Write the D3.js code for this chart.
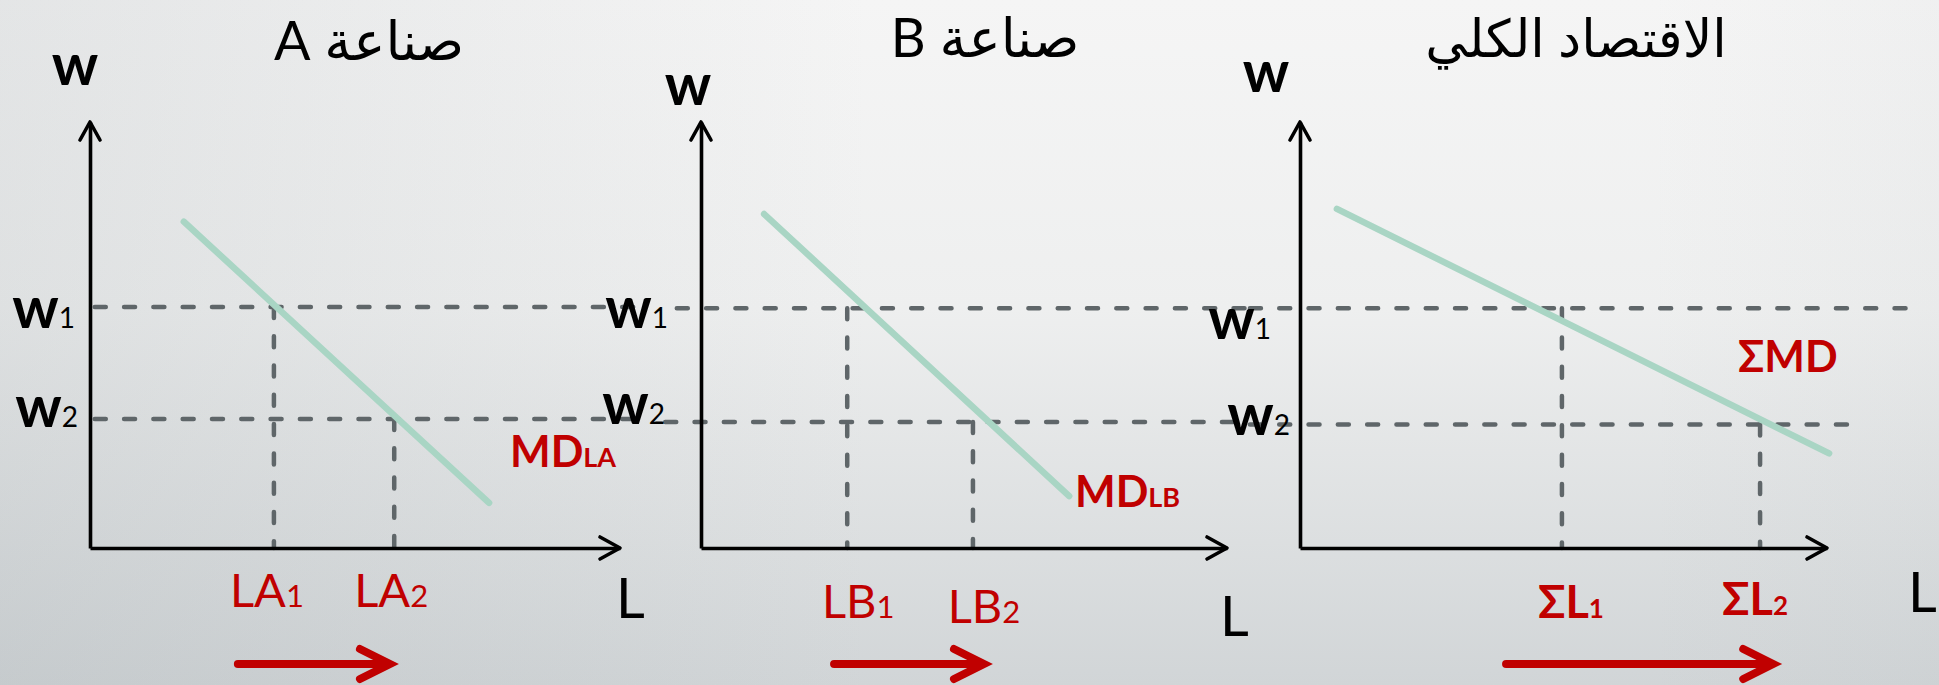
<!DOCTYPE html>
<html>
<head>
<meta charset="utf-8">
<script src="https://cdn.jsdelivr.net/npm/d3@7"></script>
<style>
html,body{margin:0;padding:0;overflow:hidden;background:#e6e8e8;}
svg{display:block;}
</style>
</head>
<body>
<svg id="chart" width="1939" height="685"></svg>
<script>
// ---------------- DATA (economic units) ----------------
const panelTitles   = ["صناعة A", "صناعة B", "الاقتصاد الكلي"];
const wageAxisLabel = "w";
const labourAxisLabel = "L";
const wageNames     = [["w", "1"], ["w", "2"]];
// wage levels w1, w2 in each panel
const wageW1 = [5.66, 5.63, 5.63];
const wageW2 = [3.03, 2.96, 2.90];
// labour quantities L1, L2 in each panel
const labourL1 = [3.47, 2.78, 4.97];
const labourL2 = [5.74, 5.17, 8.73];
const labourNames = [
  [["LA", "1"], ["LA", "2"]],
  [["LB", "1"], ["LB", "2"]],
  [["ΣL", "1"], ["ΣL", "2"]]
];
// marginal demand (MD) curve end points [L, w]
const mdStart = [[1.77, 7.66], [1.20, 7.84], [0.70, 7.96]];
const mdEnd   = [[7.53, 1.06], [7.00, 1.22], [10.04, 2.22]];
const mdNames = [["MD", "LA"], ["MD", "LB"], ["ΣMD", ""]];
// extent of the dashed wage guides [from, to] (L units)
const guideW1 = [[0.09, 10.26], [-0.46, 10.44], [-0.95, 11.69]];
const guideW2 = [[0.09, 10.26], [-0.68, 10.44], [-0.95, 10.63]];
// red shift arrows below the axis [from, to] (L units)
const shiftArrow = [[2.79, 5.66], [2.53, 5.38], [3.91, 8.98]];

// ---------------- LAYOUT ----------------
const W = 1939, H = 685;
const frames = [
  {x0: 90,   x1: 620},
  {x0: 701,  x1: 1227},
  {x0: 1300, x1: 1827}
];
const yBottom = 548, yTop = 122;
const layout = [
  {title: [369, 60], wAxis: [-15, 85], lAxis: [-4, 618],
   wLab: [[-15, 21], [-12, 8]], lLab: [[-7, 607], [-3, 607]], md: [510, 467]},
  {title: [985, 57], wAxis: [-13, 105], lAxis: [-7, 636],
   wLab: [[-33, 20], [-36, 2]], lLab: [[11, 618], [11, 623]], md: [1075, 507]},
  {title: [1576, 57], wAxis: [-34, 92], lAxis: [81, 612],
   wLab: [[-29, 31], [-10, 11]], lLab: [[9, 618], [-5, 615]], md: [1738, 372]}
];
const arrowY = 664;
const RED = "#c00000", GUIDE = "#5f6669", MDC = "#a9d5c4";

const svg = d3.select("#chart");
const defs = svg.append("defs");
const lg = defs.append("linearGradient").attr("id", "bgV").attr("x1", 0).attr("y1", 0).attr("x2", 0).attr("y2", 1);
lg.append("stop").attr("offset", 0).attr("stop-color", "#f5f5f5");
lg.append("stop").attr("offset", 0.45).attr("stop-color", "#eeefef");
lg.append("stop").attr("offset", 1).attr("stop-color", "#d1d5d7");
const lh = defs.append("linearGradient").attr("id", "bgH").attr("x1", 0).attr("y1", 0).attr("x2", 1).attr("y2", 0);
lh.append("stop").attr("offset", 0).attr("stop-color", "#8a9499").attr("stop-opacity", 0.16);
lh.append("stop").attr("offset", 0.45).attr("stop-color", "#8a9499").attr("stop-opacity", 0);
lh.append("stop").attr("offset", 0.85).attr("stop-color", "#8a9499").attr("stop-opacity", 0);
lh.append("stop").attr("offset", 1).attr("stop-color", "#8a9499").attr("stop-opacity", 0.05);
svg.append("rect").attr("width", W).attr("height", H).attr("fill", "url(#bgV)");
svg.append("rect").attr("width", W).attr("height", H).attr("fill", "url(#bgH)");

const y = d3.scaleLinear().domain([0, 10]).range([yBottom, yTop]);
const line = d3.line();

panelTitles.forEach((title, i) => {
  const f = frames[i], L = layout[i];
  const x = d3.scaleLinear().domain([0, 10]).range([f.x0, f.x1]);
  const g = svg.append("g");

  // dashed wage guides
  [[wageW1[i], guideW1[i]], [wageW2[i], guideW2[i]]].forEach(([w, ext]) => {
    g.append("path")
      .attr("d", line([[x(ext[0]), y(w)], [x(ext[1]), y(w)]]))
      .attr("stroke", GUIDE).attr("stroke-width", 4.5).attr("fill", "none")
      .attr("stroke-dasharray", "11 18.3").attr("stroke-linecap", "round");
  });
  // dashed labour guides
  [[labourL1[i], wageW1[i]], [labourL2[i], wageW2[i]]].forEach(([l, w]) => {
    g.append("path")
      .attr("d", line([[x(l), y(w)], [x(l), y(0)]]))
      .attr("stroke", GUIDE).attr("stroke-width", 4.5).attr("fill", "none")
      .attr("stroke-dasharray", "11 18.3").attr("stroke-linecap", "round");
  });

  // axes (d3 axes, no ticks)
  const ax = g.append("g").attr("transform", `translate(0,${y(0)})`)
    .call(d3.axisBottom(x).tickValues([]).tickSizeOuter(0));
  const ay = g.append("g").attr("transform", `translate(${x(0)},0)`)
    .call(d3.axisLeft(y).tickValues([]).tickSizeOuter(0));
  [ax, ay].forEach(a => a.select(".domain").attr("stroke", "#000").attr("stroke-width", 3.6));
  // arrow heads
  g.append("path").attr("d", line([[x(10) - 20, y(0) - 11], [x(10), y(0)], [x(10) - 20, y(0) + 11]]))
    .attr("stroke", "#000").attr("stroke-width", 3.6).attr("fill", "none")
    .attr("stroke-linecap", "round").attr("stroke-linejoin", "round");
  g.append("path").attr("d", line([[x(0) - 10, y(10) + 18], [x(0), y(10)], [x(0) + 10, y(10) + 18]]))
    .attr("stroke", "#000").attr("stroke-width", 3.6).attr("fill", "none")
    .attr("stroke-linecap", "round").attr("stroke-linejoin", "round");

  // MD curve
  g.append("path")
    .attr("d", line([[x(mdStart[i][0]), y(mdStart[i][1])], [x(mdEnd[i][0]), y(mdEnd[i][1])]]))
    .attr("stroke", MDC).attr("stroke-width", 6.5).attr("stroke-linecap", "round").attr("fill", "none");

  // title
  g.append("text").attr("x", L.title[0]).attr("y", L.title[1])
    .attr("text-anchor", "middle").attr("direction", "rtl")
    .style("font-family", "Lato, 'DejaVu Sans', sans-serif").style("font-size", i === 2 ? "52px" : "54px")
    .attr("fill", "#000").text(title);

  // axis labels
  g.append("text").attr("x", x(0) + L.wAxis[0]).attr("y", L.wAxis[1])
    .attr("text-anchor", "middle")
    .style("font-family", "Lato, sans-serif").style("font-size", "58px").style("font-weight", 700)
    .text(wageAxisLabel);
  g.append("text").attr("x", x(10) + L.lAxis[0]).attr("y", L.lAxis[1])
    .style("font-family", "Lato, sans-serif").style("font-size", "56px")
    .text(labourAxisLabel);

  // wage labels
  [wageW1[i], wageW2[i]].forEach((w, k) => {
    const t = g.append("text").attr("x", x(0) + L.wLab[k][0]).attr("y", y(w) + L.wLab[k][1])
      .attr("text-anchor", "end").style("font-family", "Lato, sans-serif");
    t.append("tspan").style("font-size", "58px").style("font-weight", 700).text(wageNames[k][0]);
    t.append("tspan").style("font-size", "28px").text(wageNames[k][1]);
  });

  // labour labels
  [labourL1[i], labourL2[i]].forEach((l, k) => {
    const bold = i === 2;
    const t = g.append("text").attr("x", x(l) + L.lLab[k][0]).attr("y", L.lLab[k][1])
      .attr("text-anchor", "middle").attr("fill", RED)
      .style("font-family", "Lato, sans-serif").style("font-weight", bold ? 700 : 400);
    t.append("tspan").style("font-size", bold ? "45px" : "47px").text(labourNames[i][k][0]);
    t.append("tspan").style("font-size", bold ? "26px" : "31px").text(labourNames[i][k][1]);
  });

  // MD label
  const mt = g.append("text").attr("x", L.md[0]).attr("y", L.md[1]).attr("fill", RED)
    .style("font-family", "Lato, sans-serif").style("font-weight", 700);
  mt.append("tspan").style("font-size", "43px").text(mdNames[i][0]);
  if (mdNames[i][1]) mt.append("tspan").style("font-size", "27px").text(mdNames[i][1]);

  // shift arrow
  const a0 = x(shiftArrow[i][0]), a1 = x(shiftArrow[i][1]);
  g.append("path").attr("d", line([[a0, arrowY], [a1 - 3, arrowY]]))
    .attr("stroke", RED).attr("stroke-width", 8).attr("stroke-linecap", "round").attr("fill", "none");
  g.append("path").attr("d", line([[a1 - 30, arrowY - 15], [a1, arrowY], [a1 - 30, arrowY + 15]]))
    .attr("stroke", RED).attr("stroke-width", 8).attr("stroke-linecap", "round")
    .attr("stroke-linejoin", "miter").attr("fill", "none");
});
</script>
</body>
</html>
